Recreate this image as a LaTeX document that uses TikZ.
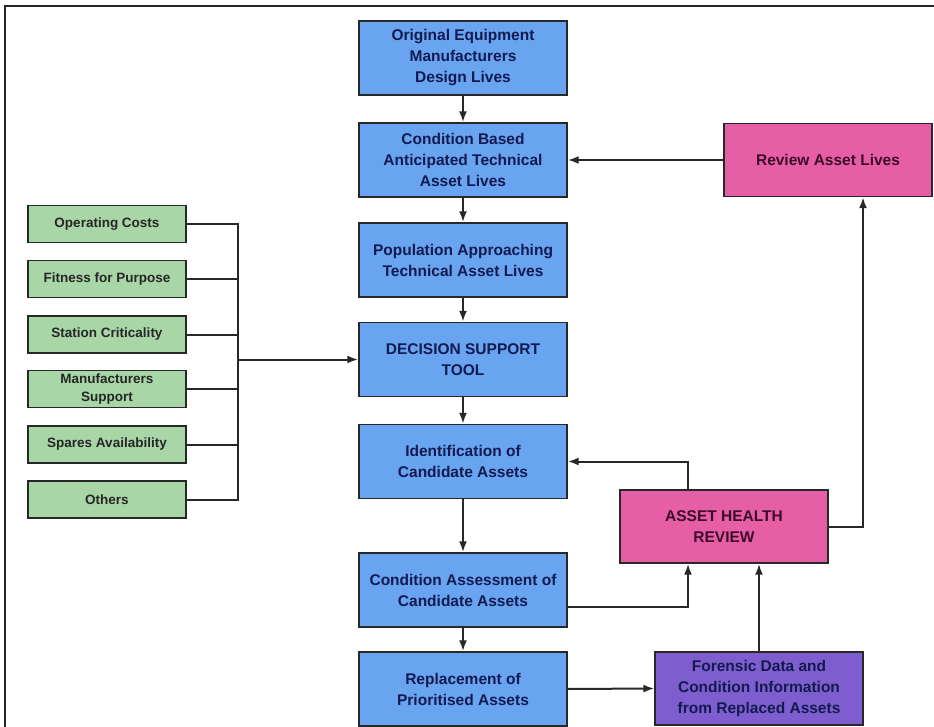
\documentclass[tikz,border=0pt]{standalone}
\usepackage{fontspec}
\setmainfont{Liberation Sans}
\usepackage{xcolor}
\usepackage{tikz}
\usetikzlibrary{arrows.meta, positioning}

\definecolor{procblue}{RGB}{104,164,240}
\definecolor{factorgreen}{RGB}{168,214,166}
\definecolor{reviewpink}{RGB}{230,94,166}
\definecolor{forensicpurple}{RGB}{126,94,206}
\definecolor{inknavy}{RGB}{18,26,80}
\definecolor{inkmaroon}{RGB}{60,10,40}
\definecolor{linegray}{RGB}{40,40,40}

\begin{document}
\begin{tikzpicture}[
      x=1pt, y=-1pt,
      every node/.style={rectangle, draw=linegray, line width=1.4pt, align=center},
      process/.style={fill=procblue, text=inknavy, minimum width=208pt, minimum height=74pt,
        font=\fontsize{15.5}{21}\selectfont\bfseries},
      factor/.style={fill=factorgreen, text=black!85, minimum width=158pt, minimum height=37pt,
        font=\fontsize{13.5}{18}\selectfont\bfseries},
      review/.style={fill=reviewpink, text=inkmaroon, minimum width=208pt, minimum height=73pt,
        font=\fontsize{15.5}{21}\selectfont\bfseries},
      forensic/.style={fill=forensicpurple, text=inknavy, minimum width=208pt, minimum height=73pt,
        font=\fontsize{15.5}{21}\selectfont\bfseries},
      link/.style={draw=linegray, line width=2pt},
      arrow/.style={link, -{Latex[length=11pt, width=8pt]}}
    ]
      \useasboundingbox (0,0) rectangle (934,727);
      \draw[line width=2.5pt, black!85] (5,727) -- (5,6) -- (934,6);

      % main column
      \node[process] (oem) at (463,58) {Original Equipment\\Manufacturers\\Design Lives};
      \node[process] (cond) at (463,160) {Condition Based\\Anticipated Technical\\Asset Lives};
      \node[process] (pop) at (463,260) {Population Approaching\\Technical Asset Lives};
      \node[process] (dst) at (463,359.5) {DECISION SUPPORT\\TOOL};
      \node[process] (ident) at (463,461.5) {Identification of\\Candidate Assets};
      \node[process] (assess) at (463,590) {Condition Assessment of\\Candidate Assets};
      \node[process] (repl) at (463,689) {Replacement of\\Prioritised Assets};

      % decision factors
      \node[factor] (opcost) at (107,224) {Operating Costs};
      \node[factor] (fitness) at (107,279) {Fitness for Purpose};
      \node[factor] (crit) at (107,334.5) {Station Criticality};
      \node[factor] (mfsupport) at (107,389) {Manufacturers\\Support};
      \node[factor] (spares) at (107,444.5) {Spares Availability};
      \node[factor] (others) at (107,499.5) {Others};

      % review loop
      \node[review] (revlives) at (828,160) {Review Asset Lives};
      \node[review] (health) at (724,526.5) {ASSET HEALTH\\REVIEW};
      \node[forensic] (foren) at (759,688.5) {Forensic Data and\\Condition Information\\from Replaced Assets};

      \draw[arrow] (oem) -- (cond);
      \draw[arrow] (cond) -- (pop);
      \draw[arrow] (pop) -- (dst);
      \draw[arrow] (dst) -- (ident);
      \draw[arrow] (ident) -- (assess);
      \draw[arrow] (assess) -- (repl);

      \coordinate (bus) at (238,359.5);
      \draw[link] (opcost.east) -| (bus);
      \draw[link] (fitness.east) -| (bus);
      \draw[link] (crit.east) -| (bus);
      \draw[link] (mfsupport.east) -| (bus);
      \draw[link] (spares.east) -| (bus);
      \draw[link] (others.east) -| (bus);
      \draw[arrow] (bus) -- (dst.west);

      \draw[arrow] (revlives.west) -- (cond.east);
      \draw[arrow] (health.east) -| ([xshift=35pt]revlives.south);
      \draw[arrow] ([xshift=-36pt]health.north) |- (ident.east);
      \draw[arrow] ([yshift=-17pt]assess.east) -| ([xshift=-36pt]health.south);
      \draw[arrow] (foren.north) -- (foren.north |- health.south);
      \draw[arrow] (repl.east) -- (foren.west);
    \end{tikzpicture}
\end{document}
